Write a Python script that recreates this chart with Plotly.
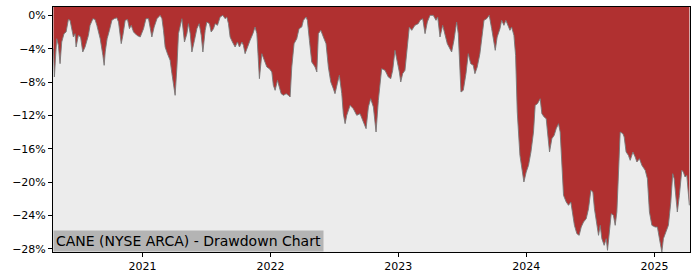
import plotly.graph_objects as go
from datetime import datetime

# Drawdown data: decimal year and drawdown in percent
years = [
    2020.306, 2020.313, 2020.322, 2020.331, 2020.344, 2020.357, 2020.370, 2020.388, 2020.404, 2020.422,
    2020.435, 2020.448, 2020.461, 2020.474, 2020.482, 2020.500, 2020.517, 2020.534, 2020.552, 2020.578,
    2020.591, 2020.613, 2020.630, 2020.644, 2020.670, 2020.691, 2020.701, 2020.709, 2020.724, 2020.742,
    2020.761, 2020.779, 2020.800, 2020.813, 2020.826, 2020.834, 2020.847, 2020.865, 2020.883, 2020.898,
    2020.912, 2020.930, 2020.956, 2020.982, 2021.008, 2021.027, 2021.047, 2021.060, 2021.073, 2021.091,
    2021.113, 2021.138, 2021.152, 2021.164, 2021.177, 2021.195, 2021.216, 2021.230, 2021.242, 2021.255,
    2021.269, 2021.281, 2021.308, 2021.320, 2021.328, 2021.347, 2021.359, 2021.373, 2021.386, 2021.406,
    2021.425, 2021.443, 2021.459, 2021.472, 2021.490, 2021.503, 2021.523, 2021.537, 2021.555, 2021.568,
    2021.586, 2021.607, 2021.628, 2021.646, 2021.659, 2021.672, 2021.685, 2021.703, 2021.724, 2021.742,
    2021.758, 2021.777, 2021.789, 2021.802, 2021.820, 2021.841, 2021.863, 2021.880, 2021.894, 2021.914,
    2021.933, 2021.951, 2021.972, 2021.992, 2022.011, 2022.023, 2022.037, 2022.055, 2022.070, 2022.084,
    2022.102, 2022.123, 2022.141, 2022.154, 2022.167, 2022.185, 2022.206, 2022.224, 2022.245, 2022.258,
    2022.279, 2022.289, 2022.305, 2022.323, 2022.349, 2022.363, 2022.375, 2022.394, 2022.414, 2022.435,
    2022.453, 2022.472, 2022.492, 2022.505, 2022.523, 2022.539, 2022.558, 2022.570, 2022.584, 2022.597,
    2022.623, 2022.648, 2022.675, 2022.701, 2022.727, 2022.748, 2022.766, 2022.784, 2022.805, 2022.826,
    2022.844, 2022.870, 2022.896, 2022.922, 2022.941, 2022.956, 2022.974, 2022.992, 2023.008, 2023.019,
    2023.034, 2023.052, 2023.070, 2023.086, 2023.105, 2023.130, 2023.156, 2023.170, 2023.191, 2023.209,
    2023.227, 2023.248, 2023.273, 2023.295, 2023.308, 2023.326, 2023.347, 2023.365, 2023.383, 2023.417,
    2023.435, 2023.456, 2023.469, 2023.490, 2023.508, 2023.529, 2023.547, 2023.566, 2023.586, 2023.599,
    2023.617, 2023.638, 2023.652, 2023.670, 2023.691, 2023.711, 2023.730, 2023.748, 2023.758, 2023.773,
    2023.795, 2023.808, 2023.826, 2023.841, 2023.859, 2023.873, 2023.886, 2023.904, 2023.917, 2023.930,
    2023.951, 2023.972, 2023.982, 2024.000, 2024.018, 2024.037, 2024.057, 2024.070, 2024.088, 2024.109,
    2024.122, 2024.140, 2024.156, 2024.166, 2024.182, 2024.200, 2024.218, 2024.234, 2024.252, 2024.265,
    2024.278, 2024.291, 2024.312, 2024.330, 2024.348, 2024.364, 2024.376, 2024.395, 2024.413, 2024.429,
    2024.447, 2024.468, 2024.486, 2024.504, 2024.520, 2024.532, 2024.546, 2024.564, 2024.577, 2024.590,
    2024.608, 2024.624, 2024.634, 2024.649, 2024.663, 2024.680, 2024.694, 2024.707, 2024.719, 2024.733,
    2024.754, 2024.764, 2024.779, 2024.797, 2024.811, 2024.832, 2024.850, 2024.863, 2024.883, 2024.902,
    2024.928, 2024.945, 2024.961, 2024.980, 2025.005, 2025.023, 2025.039, 2025.058, 2025.070, 2025.083,
    2025.109, 2025.128, 2025.143, 2025.154, 2025.169, 2025.179, 2025.195, 2025.214, 2025.226, 2025.239,
    2025.253, 2025.265, 2025.273,
]
drawdown = [
    -4.0, -7.4, -5.0, -2.8, -3.6, -5.8, -3.2, -2.2, -2.0, -0.5,
    -0.6, -1.8, -2.6, -2.2, -3.8, -2.4, -2.6, -4.4, -3.8, -2.4,
    -1.2, -0.4, -0.5, -1.2, -2.8, -4.8, -6.0, -4.4, -2.8, -1.8,
    -0.6, -0.4, -0.3, -0.8, -2.2, -3.4, -2.4, -0.6, -0.5, -1.6,
    -1.2, -2.0, -2.4, -2.6, -1.6, -0.4, -0.4, -1.4, -2.6, -1.4,
    -0.4, 0.0, -0.4, -1.8, -3.8, -4.6, -5.4, -7.0, -8.6, -9.6,
    -6.2, -2.2, -0.4, -1.8, -3.2, -2.2, -1.0, -2.2, -4.4, -3.0,
    -1.6, -1.0, -2.4, -4.4, -1.8, -0.8, -1.0, -2.0, -1.6, -1.0,
    -1.2, -0.2, 0.0, -0.4, -0.2, -1.0, -2.6, -3.2, -3.8, -3.2,
    -3.8, -3.2, -3.6, -4.6, -3.8, -3.0, -2.2, -1.4, -2.2, -7.6,
    -4.6, -5.4, -6.2, -6.4, -6.8, -8.4, -9.0, -7.8, -8.6, -9.4,
    -9.6, -9.4, -9.6, -9.8, -6.2, -3.4, -2.8, -1.6, -1.4, -0.6,
    -0.2, -0.6, -3.0, -5.6, -6.2, -6.8, -2.2, -1.8, -2.6, -3.4,
    -6.2, -8.0, -8.8, -9.4, -8.2, -7.2, -9.4, -11.8, -13.0, -12.0,
    -10.8, -11.2, -12.0, -11.8, -12.8, -13.6, -11.0, -10.0, -11.0, -14.0,
    -10.2, -6.4, -6.6, -7.4, -7.6, -6.6, -4.2, -5.4, -6.8, -8.0,
    -7.0, -6.6, -3.8, -1.4, -1.8, -1.2, -1.0, -0.6, -0.4, -2.2,
    -0.8, 0.0, 0.0, -0.6, -0.2, -2.6, -1.2, -2.2, -3.4, -4.4,
    -3.0, -0.8, -2.2, -9.2, -9.0, -7.0, -4.6, -5.8, -6.0, -7.0,
    -6.2, -4.6, -2.6, -0.6, -0.4, 0.0, -1.6, -3.0, -4.2, -2.6,
    -1.6, -0.6, -1.2, -0.6, -1.4, -1.8, -1.4, -2.4, -4.8, -11.6,
    -16.8, -18.8, -20.0, -18.8, -18.0, -16.4, -14.0, -10.8, -10.6, -10.0,
    -11.8, -12.2, -12.4, -14.0, -16.4, -14.8, -14.4, -13.6, -13.0, -14.0,
    -17.6, -21.6, -22.4, -22.8, -22.4, -24.0, -25.2, -26.2, -26.4, -25.4,
    -24.8, -24.4, -23.2, -21.0, -21.2, -23.2, -24.8, -26.4, -25.2, -26.8,
    -27.6, -26.8, -28.2, -26.0, -23.8, -24.0, -25.2, -23.6, -18.8, -14.0,
    -14.2, -14.6, -16.4, -16.8, -17.4, -16.4, -17.0, -17.6, -17.2, -18.0,
    -18.6, -19.6, -23.6, -25.2, -25.4, -25.4, -26.8, -28.4, -26.8, -26.2,
    -25.2, -22.4, -19.0, -19.6, -22.0, -23.6, -21.6, -18.6, -18.8, -19.4,
    -19.2, -21.2, -22.8,
]
y_ticks = [0, -4, -8, -12, -16, -20, -24, -28]
y_tick_text = ["0%", "\u22124%", "\u22128%", "\u221212%", "\u221216%", "\u221220%", "\u221224%", "\u221228%"]
x_ticks = ["2021-01-01", "2022-01-01", "2023-01-01", "2024-01-01", "2025-01-01"]
x_tick_text = ["2021", "2022", "2023", "2024", "2025"]
title_text = "CANE (NYSE ARCA) - Drawdown Chart"


def dec_to_dt(y):
    yr = int(y)
    start = datetime(yr, 1, 1)
    end = datetime(yr + 1, 1, 1)
    return start + (end - start) * (y - yr)


dates = [dec_to_dt(y) for y in years]
top = [5.0] * len(dates)

fig = go.Figure()
fig.add_trace(go.Scatter(x=dates, y=top, mode="lines", line=dict(width=0, color="#B03030"),
                         hoverinfo="skip", showlegend=False))
fig.add_trace(go.Scatter(x=dates, y=drawdown, mode="lines", fill="tonexty",
                         fillcolor="#B03030", line=dict(color="rgba(120,120,120,0.9)", width=1),
                         showlegend=False))

font = dict(family="DejaVu Sans", size=11, color="black")
fig.update_layout(
    width=700, height=280,
    margin=dict(l=53, r=10, t=7, b=28),
    paper_bgcolor="white", plot_bgcolor="#ECECEC",
    font=font,
    xaxis=dict(range=[dec_to_dt(2020.302), dec_to_dt(2025.278)], tickvals=x_ticks, ticktext=x_tick_text,
               showgrid=False, zeroline=False, showline=True, linecolor="black", linewidth=1,
               mirror=True, ticks="outside", ticklen=4, tickcolor="black", tickfont=font),
    yaxis=dict(range=[-28.4, 1.0], tickvals=y_ticks, ticktext=y_tick_text,
               showgrid=False, zeroline=False, showline=True, linecolor="black", linewidth=1,
               mirror=True, ticks="outside", ticklen=4, tickcolor="black", tickfont=font),
    annotations=[dict(text=title_text, xref="paper", yref="paper", x=0, y=0,
                      xanchor="left", yanchor="bottom", showarrow=False,
                      font=dict(family="DejaVu Sans", size=14, color="black"),
                      bgcolor="#B4B4B4", borderpad=2)],
)
fig.write_html("out.html")
